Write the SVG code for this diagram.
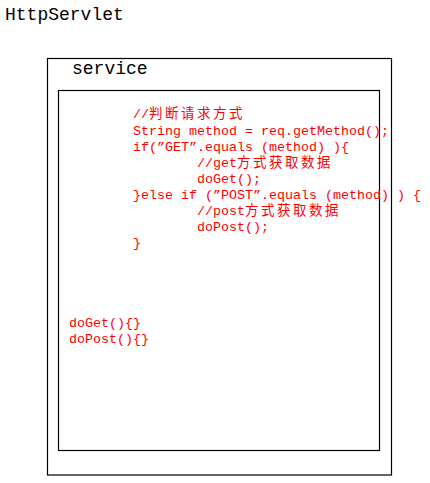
<svg xmlns="http://www.w3.org/2000/svg" width="430" height="483" viewBox="0 0 430 483">
<style>
.box{fill:none;stroke:#000;stroke-width:1.2}
.title{font-family:"Liberation Mono","DejaVu Sans Mono",monospace;font-size:18px;fill:#000}
.code{font-family:"Liberation Mono","DejaVu Sans Mono",monospace;font-size:13.33px;fill:#ff0000}
.cjk{font-family:"Noto Sans CJK SC","DejaVu Sans",sans-serif;font-size:13.5px;letter-spacing:2.5px}
</style>
<rect width="430" height="483" fill="#fff"/>
<g id="httpservlet">
<text class="title" x="5" y="20">HttpServlet</text>
</g>
<g id="service">
<rect class="box" x="47.5" y="58.5" width="344" height="416.5"/>
<text class="title" x="72" y="74">service</text>
</g>
<g id="service-body">
<rect class="box" x="58.5" y="90.5" width="321" height="360"/>
<text class="code" y="118"><tspan x="133">//</tspan><tspan class="cjk" x="149">判断请求方式</tspan></text>
<text class="code" x="133" y="135">String method = req.getMethod();</text>
<text class="code" x="133" y="151">if(”GET”.equals (method) ){</text>
<text class="code" y="167"><tspan x="197">//get</tspan><tspan class="cjk" x="237">方式获取数据</tspan></text>
<text class="code" x="197" y="183">doGet();</text>
<text class="code" x="133" y="199">}else if (”POST”.equals (method) ) {</text>
<text class="code" y="215"><tspan x="197">//post</tspan><tspan class="cjk" x="245">方式获取数据</tspan></text>
<text class="code" x="197" y="231">doPost();</text>
<text class="code" x="133" y="247">}</text>
</g>
<g id="methods">
<text class="code" x="69" y="327">doGet(){}</text>
<text class="code" x="69" y="343">doPost(){}</text>
</g>
<g id="connectors"/>
</svg>
